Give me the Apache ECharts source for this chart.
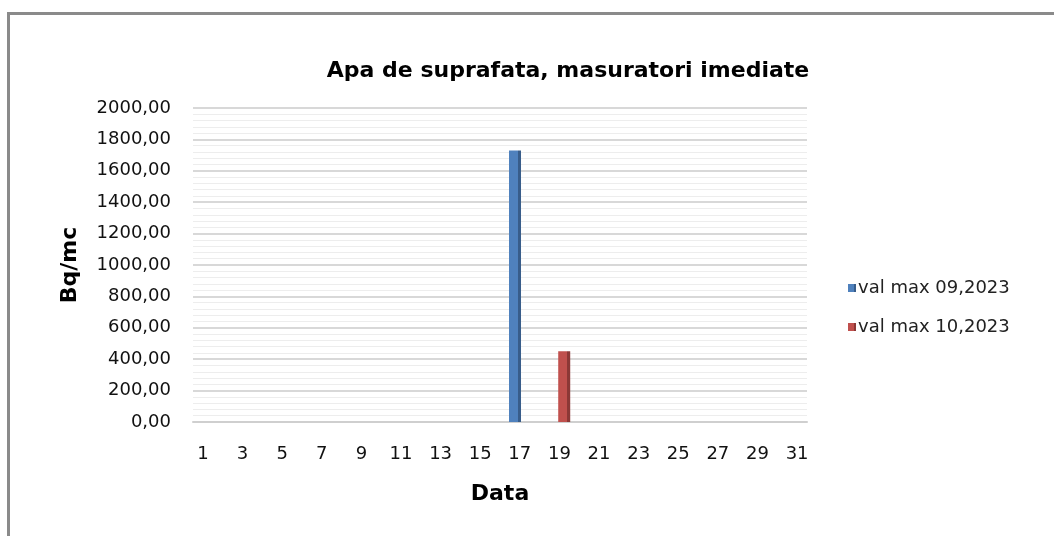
<!DOCTYPE html>
<html>
<head>
<meta charset="utf-8">
<title>Apa de suprafata</title>
<script src="https://cdn.jsdelivr.net/npm/echarts@6/dist/echarts.min.js"></script>
<style>
  html, body { margin: 0; padding: 0; background: #fff; }
  #chart { width: 1054px; height: 536px; }
</style>
</head>
<body>
<div id="chart"></div>
<script>
// zilele lunii 1..31
const days = ['1','2','3','4','5','6','7','8','9','10','11','12','13','14','15','16',
  '17','18','19','20','21','22','23','24','25','26','27','28','29','30','31']

// valori maxime (Bq/mc), doar zilele cu masuratori
const valMax092023 = [null, null, null, null, null, null, null, null, null, null, null, null, null, null, null, null,
  1730, null, null, null, null, null, null, null, null, null, null, null, null, null, null]
const valMax102023 = [null, null, null, null, null, null, null, null, null, null, null, null, null, null, null, null,
  null, null, 450, null, null, null, null, null, null, null, null, null, null, null, null]

const seriesNames = ['val max 09,2023', 'val max 10,2023']

const chart = echarts.init(document.getElementById('chart'))

// fata + latura mai inchisa, ca la coloanele 3D din Excel
const shaded = (front, side) => new echarts.graphic.LinearGradient(0, 0, 1, 0, [
  { offset: 0, color: front },
  { offset: 0.74, color: front },
  { offset: 0.74, color: side },
  { offset: 1, color: side }
])

const option = {
  animation: false,
  backgroundColor: '#fff',
  textStyle: { fontFamily: 'DejaVu Sans' },
  graphic: [
    {
      type: 'rect',
      shape: { x: 8.5, y: 13.5, width: 1200, height: 700 },
      style: { fill: 'none', stroke: '#8a8a8a', lineWidth: 3 },
      silent: true
    }
  ],
  title: {
    text: 'Apa de suprafata, masuratori imediate',
    left: 563,
    textAlign: 'center',
    top: 55,
    textStyle: { fontFamily: 'DejaVu Sans', fontWeight: 'bold', fontSize: 22, color: '#000' }
  },
  legend: {
    orient: 'vertical',
    left: 843,
    top: 274,
    itemWidth: 8,
    itemHeight: 8,
    itemGap: 21,
    icon: 'rect',
    data: seriesNames,
    textStyle: { fontFamily: 'DejaVu Sans', fontSize: 18, color: '#222', padding: [0, 0, 0, -3] }
  },
  grid: { left: 193, right: 247, top: 108, bottom: 114 },
  xAxis: {
    type: 'category',
    data: days,
    name: 'Data',
    nameLocation: 'middle',
    nameGap: 61,
    nameTextStyle: { fontFamily: 'DejaVu Sans', fontWeight: 'bold', fontSize: 22, color: '#000' },
    axisLine: { show: true, lineStyle: { color: '#cfcfcf', width: 2 } },
    axisTick: { show: false },
    axisLabel: { interval: 1, margin: 23, fontSize: 18, color: '#111' }
  },
  yAxis: {
    type: 'value',
    min: 0,
    max: 2000,
    interval: 200,
    name: 'Bq/mc',
    nameLocation: 'middle',
    nameGap: 112,
    nameRotate: 90,
    nameTextStyle: { fontFamily: 'DejaVu Sans', fontWeight: 'bold', fontSize: 22, color: '#000' },
    axisLine: { show: false },
    axisTick: { show: false },
    axisLabel: {
      margin: 22,
      fontSize: 18,
      color: '#111',
      formatter: (v) => v.toFixed(2).replace('.', ',')
    },
    splitLine: { show: true, lineStyle: { color: '#d8d8d8', width: 2 } },
    minorTick: { show: false, splitNumber: 5 },
    minorSplitLine: { show: true, lineStyle: { color: '#ededed', width: 1 } }
  },
  series: [
    {
      name: seriesNames[0],
      type: 'bar',
      data: valMax092023,
      barWidth: 12,
      barGap: '-20%',
      itemStyle: { color: shaded('#4f81bd', '#385d8a') }
    },
    {
      name: seriesNames[1],
      type: 'bar',
      data: valMax102023,
      barWidth: 12,
      itemStyle: { color: shaded('#c0504d', '#8c3836') }
    }
  ]
}

chart.setOption(option)
</script>
</body>
</html>
